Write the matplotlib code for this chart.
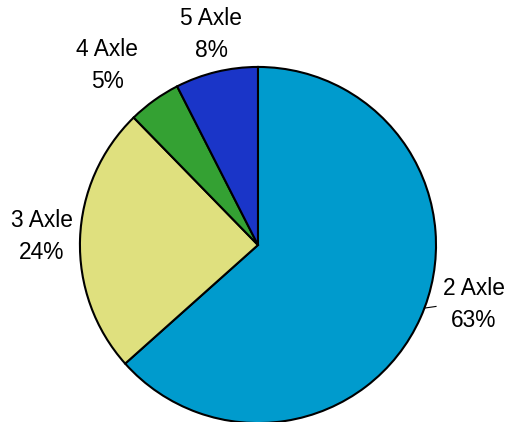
import matplotlib.pyplot as plt

categories = ['2 Axle', '3 Axle', '4 Axle', '5 Axle']
shares = [63.4, 24.3, 4.8, 7.5]
pct_labels = ['63%', '24%', '5%', '8%']
colors = ['#009BCD', '#DFE07E', '#34A133', '#1A35C8']

# where each label sits, in pie-radius units
label_pos = [(1.213, -0.335), (-1.213, 0.05), (-0.848, 1.006), (-0.264, 1.18)]

plt.rcParams['font.family'] = ['Liberation Sans', 'DejaVu Sans']

fig = plt.figure(figsize=(5.09, 4.22), dpi=100)
ax = fig.add_axes([0, 0, 1, 1])
ax.pie(shares, colors=colors, startangle=90, counterclock=False, radius=1,
       wedgeprops={'edgecolor': 'black', 'linewidth': 1.5})
ax.set_aspect('auto')
ax.set_xlim(-1.449, 1.410)
ax.set_ylim(-0.994, 1.376)
ax.axis('off')

for name, pct, (x, y) in zip(categories, pct_labels, label_pos):
    ax.text(x, y, name + '\n' + pct, ha='center', va='center',
            fontsize=16.4, linespacing=1.5)

# small leader line for the first label
ax.plot([0.937, 1.0], [-0.354, -0.345], color='black', linewidth=0.8)

fig.savefig('out.png', dpi=100)
